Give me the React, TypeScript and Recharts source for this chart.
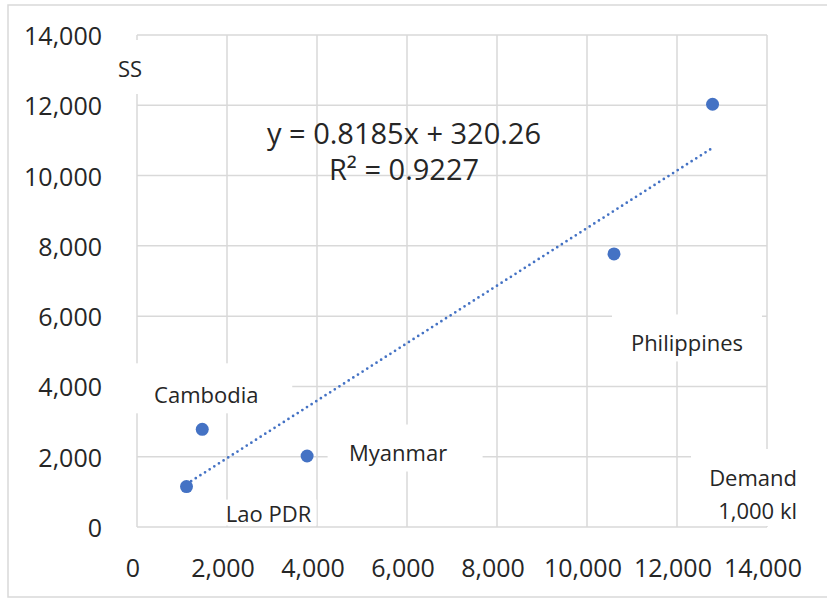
import React from 'react';
import { ScatterChart, Scatter, XAxis, YAxis, CartesianGrid, ReferenceLine, Customized } from 'recharts';

// ---- data ----
const countries = ['Lao PDR', 'Cambodia', 'Myanmar', 'Philippines', ''];
const demand = [1100, 1450, 3780, 10600, 12790];
const supply = [1150, 2780, 2020, 7770, 12030];
const axisTicks = [0, 2000, 4000, 6000, 8000, 10000, 12000, 14000];
const slope = 0.8185;
const intercept = 320.26;
const equationText = 'y = 0.8185x + 320.26';
const r2Text = 'R² = 0.9227';
const yAxisTitle = 'SS';
const xAxisTitle = ['Demand', '1,000 kl'];

const data = countries.map((name, i) => ({ name, x: demand[i], y: supply[i] }));
const xMin = Math.min(...demand);
const xMax = Math.max(...demand);
const trend = [
  { x: xMin, y: slope * xMin + intercept },
  { x: xMax, y: slope * xMax + intercept },
];

// ---- styles ----
const FONT = "'Open Sans', sans-serif";
const TEXT = '#262626';
const GRID = '#d9d9d9';
const BLUE = '#4472C4';

// label placement (text centre relative to point, box relative to text)
const labelStyle: Record<string, { dx: number; dy: number; bw: number; bh: number; bdx: number; bdy: number }> = {
  'Lao PDR': { dx: 82, dy: 26, bw: 96, bh: 26, bdx: 0, bdy: 0 },
  Cambodia: { dx: 4, dy: -35, bw: 172, bh: 50, bdx: 0, bdy: -6 },
  Myanmar: { dx: 91, dy: -4, bw: 155, bh: 47, bdx: 7, bdy: -4 },
  Philippines: { dx: 73, dy: 88, bw: 150, bh: 47, bdx: 0, bdy: -4 },
};

const fmt = (v: number) => v.toLocaleString('en-US');

const PointShape = (props: any) => {
  const { cx, cy, payload } = props;
  const ls = labelStyle[payload?.name];
  return (
    <g>
      <circle cx={cx} cy={cy} r={6.5} fill={BLUE} />
      {ls && (
        <g>
          <rect
            x={cx + ls.dx + ls.bdx - ls.bw / 2}
            y={cy + ls.dy + ls.bdy - ls.bh / 2}
            width={ls.bw}
            height={ls.bh}
            fill="#ffffff"
          />
          <text
            x={cx + ls.dx}
            y={cy + ls.dy}
            textAnchor="middle"
            dominantBaseline="central"
            fontFamily={FONT}
            fontSize={22}
            fill={TEXT}
          >
            {payload.name}
          </text>
        </g>
      )}
    </g>
  );
};

const XTick = (props: any) => {
  const { x, y, payload } = props;
  return (
    <text x={x - 4} y={y} textAnchor="middle" dominantBaseline="central" fontFamily={FONT} fontSize={25} fill={TEXT}>
      {fmt(payload.value)}
    </text>
  );
};

const YTick = (props: any) => {
  const { x, y, payload } = props;
  return (
    <text x={x} y={y} textAnchor="end" dominantBaseline="central" fontFamily={FONT} fontSize={25} fill={TEXT}>
      {fmt(payload.value)}
    </text>
  );
};

const Overlay = () => (
  <g>
    <rect x={8} y={5} width={840} height={592} fill="none" stroke={GRID} strokeWidth={1.5} />
    {/* y axis title */}
    <rect x={106} y={40} width={48} height={54} fill="#ffffff" />
    <text x={130} y={68} textAnchor="middle" dominantBaseline="central" fontFamily={FONT} fontSize={22} fill={TEXT}>
      {yAxisTitle}
    </text>
    {/* x axis title */}
    <rect x={691} y={449} width={126} height={77} fill="#ffffff" />
    <text x={797} y={477} textAnchor="end" dominantBaseline="central" fontFamily={FONT} fontSize={22} fill={TEXT}>
      {xAxisTitle[0]}
    </text>
    <text x={797} y={510} textAnchor="end" dominantBaseline="central" fontFamily={FONT} fontSize={22} fill={TEXT}>
      {xAxisTitle[1]}
    </text>
    {/* trendline equation */}
    <text x={404} y={132} textAnchor="middle" dominantBaseline="central" fontFamily={FONT} fontSize={29} fill={TEXT}>
      {equationText}
    </text>
    <text x={404} y={168} textAnchor="middle" dominantBaseline="central" fontFamily={FONT} fontSize={29} fill={TEXT}>
      {r2Text}
    </text>
  </g>
);

export default function App() {
  return (
    <div style={{ position: 'fixed', left: 0, top: 0, width: 827, height: 598, background: '#fff' }}>
      <ScatterChart width={827} height={598} margin={{ top: 35, right: 60, bottom: 0, left: 0 }}>
        <CartesianGrid stroke={GRID} strokeWidth={1.5} horizontalValues={axisTicks} verticalValues={axisTicks} />
        <XAxis
          type="number"
          dataKey="x"
          domain={[0, 14000]}
          ticks={axisTicks}
          height={71}
          axisLine={false}
          tickLine={false}
          tickSize={0}
          tickMargin={40}
          tick={<XTick />}
          interval={0}
        />
        <YAxis
          type="number"
          dataKey="y"
          domain={[0, 14000]}
          ticks={axisTicks}
          width={137}
          axisLine={false}
          tickLine={false}
          tickSize={0}
          tickMargin={35}
          tick={<YTick />}
          interval={0}
        />
        <ReferenceLine
          segment={trend}
          stroke={BLUE}
          strokeWidth={2.75}
          strokeDasharray="0 5.5"
          strokeLinecap="round"
          ifOverflow="visible"
        />
        <Scatter data={data} shape={<PointShape />} isAnimationActive={false} />
        <Customized component={Overlay} />
      </ScatterChart>
    </div>
  );
}
